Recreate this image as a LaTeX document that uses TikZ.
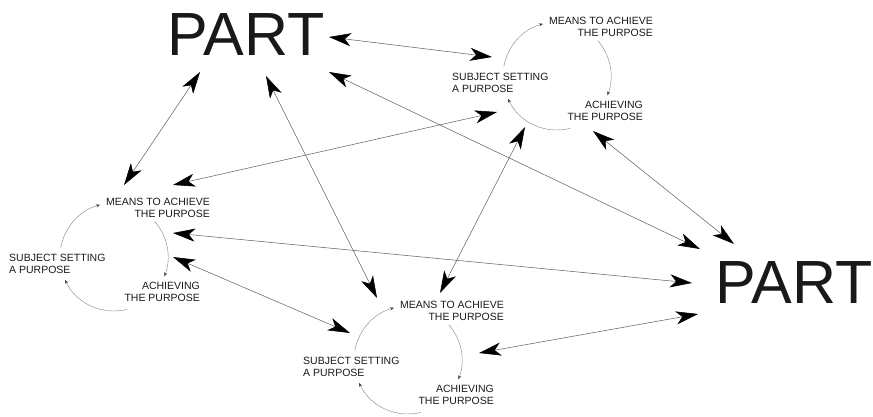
\documentclass[tikz,border=0pt]{standalone}
\usepackage{fontspec}
\setmainfont{Liberation Sans}
\usepackage{tikz}
\usetikzlibrary{arrows.meta}

\tikzset{
  bigdart/.tip={Stealth[length=22pt,width=13pt,inset=6pt,color=black]},
  smalldart/.tip={Stealth[length=4pt,width=3pt,color=black!75]},
  link/.style={draw=black!60,line width=0.55pt,{bigdart}-{bigdart}},
  turn/.style={draw=black!45,line width=0.45pt,-{smalldart}},
  part/.style={font=\fontsize{61}{61}\selectfont,inner sep=0pt,text=black!90},
  phase/.style={font=\fontsize{10.5}{12}\selectfont,inner sep=0pt,text=black!90}
}

\begin{document}
\begin{tikzpicture}[x=1pt,y=-1pt]
\useasboundingbox (0,0) rectangle (873,417);

% the two parts
\node[part] (partT) at (246,35) {PART};
\node[part] (partR) at (794,283) {PART};

% the three cycles
\foreach \c/\x/\y in {cr/557/76, cl/114/257, cb/408/360}{
  \coordinate (\c) at (\x,\y);
  \draw[turn] (\c) ++(190:54) arc[start angle=190,end angle=255,radius=54];
  \draw[turn] (\c) ++(-41:54) arc[start angle=-41,end angle=21,radius=54];
  \draw[turn] (\c) ++(76:54) arc[start angle=76,end angle=155,radius=54];
  \node[phase,anchor=north east,align=right] (\c-means) at ([shift={(96,-59)}]\c) {MEANS TO ACHIEVE\\THE PURPOSE};
  \node[phase,anchor=north west,align=left] (\c-subj) at ([shift={(-105,-3)}]\c) {SUBJECT SETTING\\A PURPOSE};
  \node[phase,anchor=north east,align=right] (\c-ach) at ([shift={(86,25)}]\c) {ACHIEVING\\THE PURPOSE};
}

% ends of the links
\coordinate (pT-r) at (329,37);
\coordinate (pT-d) at (329,72);
\coordinate (pT-l) at (200,72);
\coordinate (pT-b) at (266,76);
\coordinate (pR-t) at (700,249);
\coordinate (pR-u) at (734,244);
\coordinate (pR-m) at (692,283);
\coordinate (pR-b) at (698,314);
\coordinate (cr-w) at (492,57);
\coordinate (cr-sw) at (497,112);
\coordinate (cr-s) at (525,127);
\coordinate (cr-se) at (593,131);
\coordinate (cl-n) at (124,185);
\coordinate (cl-ne) at (173,185);
\coordinate (cl-e) at (173,233);
\coordinate (cl-se) at (173,257);
\coordinate (cb-nw) at (377,298);
\coordinate (cb-n) at (440,293);
\coordinate (cb-w) at (350,333);
\coordinate (cb-e) at (479,353);

% links
\draw[link] (pT-r) -- (cr-w);
\draw[link] (pT-d) -- (pR-t);
\draw[link] (pT-l) -- (cl-n);
\draw[link] (pT-b) -- (cb-nw);
\draw[link] (cr-sw) -- (cl-ne);
\draw[link] (cr-s) -- (cb-n);
\draw[link] (cr-se) -- (pR-u);
\draw[link] (cl-e) -- (pR-m);
\draw[link] (cl-se) -- (cb-w);
\draw[link] (cb-e) -- (pR-b);
\end{tikzpicture}
\end{document}
